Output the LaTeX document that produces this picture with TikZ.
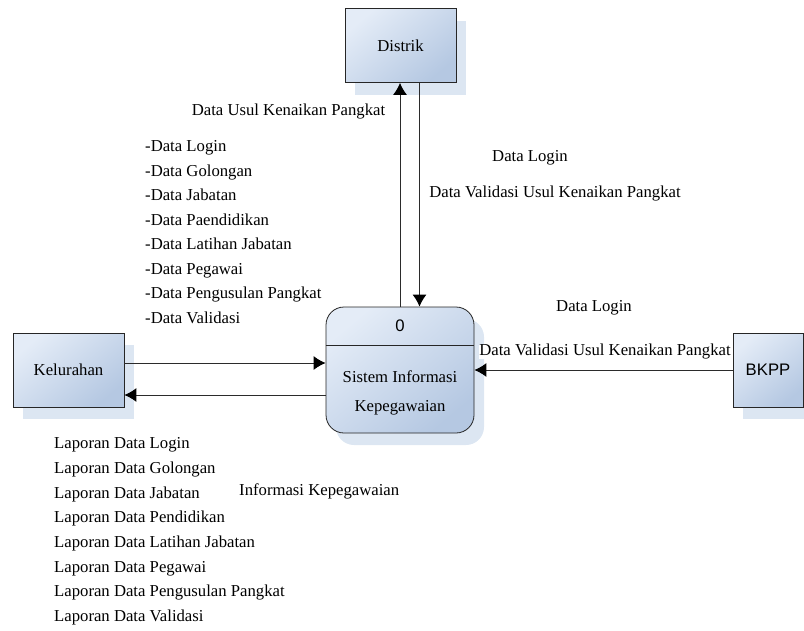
\documentclass[tikz,border=0pt]{standalone}
\usepackage{fontspec}
\setmainfont{Liberation Serif}
\newfontfamily\arialfont{Liberation Sans}
\usepackage{xcolor}
\usetikzlibrary{arrows.meta}
\usetikzlibrary{shadows}
\usetikzlibrary{positioning}

\definecolor{boxlight}{HTML}{E4ECF7}
\definecolor{boxdark}{HTML}{B5C8E2}
\definecolor{shadowblue}{HTML}{DCE6F2}
\definecolor{linegray}{HTML}{2B2B2B}

\tikzset{
  entity/.style={draw=black!85, line width=0.8pt, top color=boxlight, bottom color=boxdark,
    shading angle=40, inner sep=0pt, minimum width=111pt, minimum height=74pt,
    drop shadow={shadow xshift=10pt, shadow yshift=-12pt, fill=shadowblue, opacity=1}},
  process/.style={entity, rounded corners=18pt, minimum width=148pt, minimum height=126pt},
  flow/.style={->, draw=linegray, line width=1pt},
  lbl/.style={inner sep=0pt, text height=11pt, text depth=3.5pt},
}

\begin{document}
\begin{tikzpicture}[x=1pt, y=-1pt, >={Latex[length=12pt,width=14pt,color=black]},
  font=\fontsize{16.7}{20}\selectfont]
\useasboundingbox (0,0) rectangle (804,630);

%Entitas
\node[entity] (distrik) at (400.5,45.5) {Distrik};
\node[entity] (kel) at (68.5,370) {Kelurahan};
\node[entity, minimum width=70pt] (bkpp) at (768,370) {\arialfont BKPP};

%Proses
\node[process] (proc) at (400,370) {};
\node[lbl, minimum height=38pt, text height=, text depth=] (hdr) at (400,326) {\arialfont 0};
\draw[draw=black!85, line width=0.8pt] (proc.west |- hdr.south) -- (proc.east |- hdr.south);
\node[align=center, inner sep=0pt, font=\fontsize{16.7}{29}\selectfont] (ptext) at (400,393)
  {Sistem Informasi\\Kepegawaian};

%Aliran data
\draw[flow] (proc.north) -- (proc.north |- distrik.south);
\draw[flow] ([xshift=19pt]distrik.south) -- ([xshift=19pt]distrik.south |- proc.north);
\draw[flow] ([yshift=7pt]kel.east) -- ([yshift=7pt]kel.east -| proc.west);
\draw[flow] ([yshift=-25pt]proc.west) -- ([yshift=-25pt]proc.west -| kel.east);
\draw[flow] (bkpp.west) -- (proc.east);

%Label
\node[lbl] (usul) at (288.5,112) {Data Usul Kenaikan Pangkat};
\foreach \t [count=\i from 0] in {Login, Golongan, Jabatan, Paendidikan, Latihan Jabatan,
    Pegawai, Pengusulan Pangkat, Validasi} {
  \node[lbl, anchor=west] (in\i) at (145,148+24.5*\i) {-Data \t};
}
\node[lbl] (dlogin) at (530,158) {Data Login};
\node[lbl] (dvalid) at (555,194) {Data Validasi Usul Kenaikan Pangkat};
\node[lbl] (blogin) at (594,308) {Data Login};
\node[lbl, fill=white] (bvalid) at (605,352) {Data Validasi Usul Kenaikan Pangkat};
\foreach \t [count=\i from 0] in {Login, Golongan, Jabatan, Pendidikan, Latihan Jabatan,
    Pegawai, Pengusulan Pangkat, Validasi} {
  \node[lbl, anchor=west] (lap\i) at (54,445+24.7*\i) {Laporan Data \t};
}
\node[lbl, anchor=west] (info) at (239,492) {Informasi Kepegawaian};
\end{tikzpicture}
\end{document}
